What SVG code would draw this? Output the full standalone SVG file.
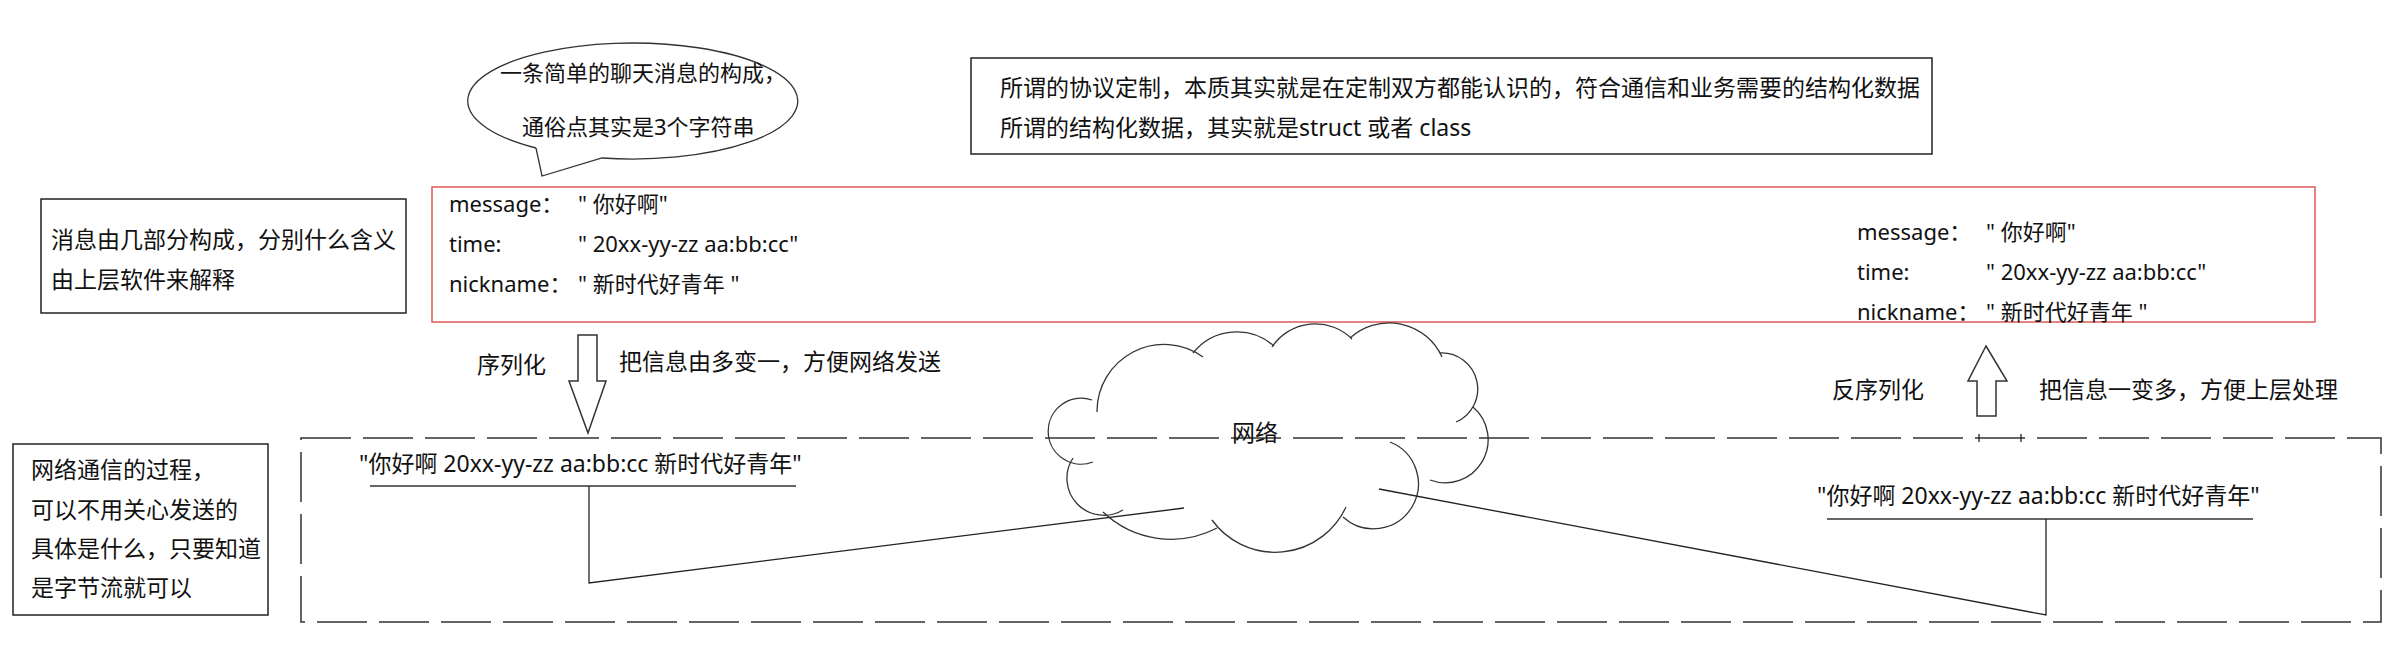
<svg xmlns="http://www.w3.org/2000/svg" width="2394" height="651" viewBox="0 0 2394 651">
<style>
.t{font-family:"Noto Sans","Noto Sans CJK SC",sans-serif;font-size:23px;fill:#111}
.s{font-size:22px}
.box{fill:none;stroke:#222;stroke-width:1.5}
.red{fill:none;stroke:#dd5a5a;stroke-width:1.5}
.dash{fill:none;stroke:#333;stroke-width:1.5;stroke-dasharray:50 12}
.ln{fill:none;stroke:#222;stroke-width:1.3}
.ul{fill:none;stroke:#666;stroke-width:2}
.arr{fill:#fff;stroke:#333;stroke-width:1.5}
.cl{fill:none;stroke:#333;stroke-width:1.3}
</style>
<rect width="2394" height="651" fill="#fff"/>

<g id="bubble">
<path class="cl" d="M536,148 L542,176 L602,158 A165,58 0 1 0 536,148"/>
<text class="t s" x="500" y="81">一条简单的聊天消息的构成，</text>
<text class="t s" x="522" y="135">通俗点其实是3个字符串</text>
</g>

<g id="protocol-note">
<rect class="box" x="971" y="58" width="961" height="96"/>
<text class="t" x="1000" y="96">所谓的协议定制，本质其实就是在定制双方都能认识的，符合通信和业务需要的结构化数据</text>
<text class="t" x="1000" y="136">所谓的结构化数据，其实就是struct 或者 class</text>
</g>

<g id="message-note">
<rect class="box" x="41" y="199" width="365" height="114"/>
<text class="t" x="51" y="248">消息由几部分构成，分别什么含义</text>
<text class="t" x="51" y="288">由上层软件来解释</text>
</g>

<g id="structured-message">
<rect class="red" x="432" y="187" width="1883" height="135"/>
<text class="t s" x="449" y="212">message：</text>
<text class="t s" x="578" y="212">" 你好啊"</text>
<text class="t s" x="449" y="252">time:</text>
<text class="t s" x="578" y="252">" 20xx-yy-zz aa:bb:cc"</text>
<text class="t s" x="449" y="292">nickname：</text>
<text class="t s" x="578" y="292">" 新时代好青年 "</text>
<text class="t s" x="1857" y="240">message：</text>
<text class="t s" x="1986" y="240">" 你好啊"</text>
<text class="t s" x="1857" y="280">time:</text>
<text class="t s" x="1986" y="280">" 20xx-yy-zz aa:bb:cc"</text>
<text class="t s" x="1857" y="320">nickname：</text>
<text class="t s" x="1986" y="320">" 新时代好青年 "</text>
</g>

<g id="serialize-label">
<text class="t" x="477" y="373">序列化</text>
<text class="t" x="619" y="370">把信息由多变一，方便网络发送</text>
</g>

<g id="deserialize-label">
<text class="t" x="1832" y="398">反序列化</text>
<text class="t" x="2039" y="398">把信息一变多，方便上层处理</text>
</g>

<g id="network-note">
<rect class="box" x="13" y="444" width="255" height="171"/>
<text class="t" x="31" y="478">网络通信的过程，</text>
<text class="t" x="31" y="518">可以不用关心发送的</text>
<text class="t" x="31" y="557">具体是什么，只要知道</text>
<text class="t" x="31" y="596">是字节流就可以</text>
</g>

<g id="byte-stream-area">
<rect class="dash" x="301" y="438" width="2080" height="184"/>
<line class="ln" x1="1979" y1="434" x2="1979" y2="442"/>
<line class="ln" x1="2021" y1="434" x2="2021" y2="442"/>
</g>

<g id="sender-string">
<text class="t" x="359" y="472">"你好啊 20xx-yy-zz aa:bb:cc 新时代好青年"</text>
<line class="ul" x1="370" y1="486" x2="796" y2="486"/>
</g>

<g id="receiver-string">
<text class="t" x="1817" y="504">"你好啊 20xx-yy-zz aa:bb:cc 新时代好青年"</text>
<line class="ul" x1="1827" y1="519" x2="2253" y2="519"/>
</g>

<g id="network-cloud">
<path class="cl" d="M1093,462 A33,33 0 1 1 1092,400 M1097,412 A67,67 0 0 1 1203,357 M1193,353 A56,56 0 0 1 1274,346 M1272,347 A52,52 0 0 1 1352,339 M1350,338 A58,58 0 0 1 1442,357 M1440,353 A36,36 0 0 1 1456,422 M1473,407 A43,43 0 0 1 1430,480 M1390,442 A45,45 0 1 1 1343,517 M1346,507 A78,78 0 0 1 1212,520 M1217,528 A99,99 0 0 1 1103,512 M1123,510 A37,37 0 0 1 1073,458"/>
<text class="t" x="1232" y="441">网络</text>
</g>

<g id="connectors">
<polygon class="arr" points="578,335 597,335 597,381 606,381 588,433 569,381 578,381"/>
<polygon class="arr" points="1986,346 2007,381 1996,381 1996,416 1977,416 1977,381 1968,381"/>
<polyline class="ln" points="589,486 589,583 1184,508"/>
<polyline class="ln" points="1379,489 2046,615 2046,519"/>
</g>
</svg>
